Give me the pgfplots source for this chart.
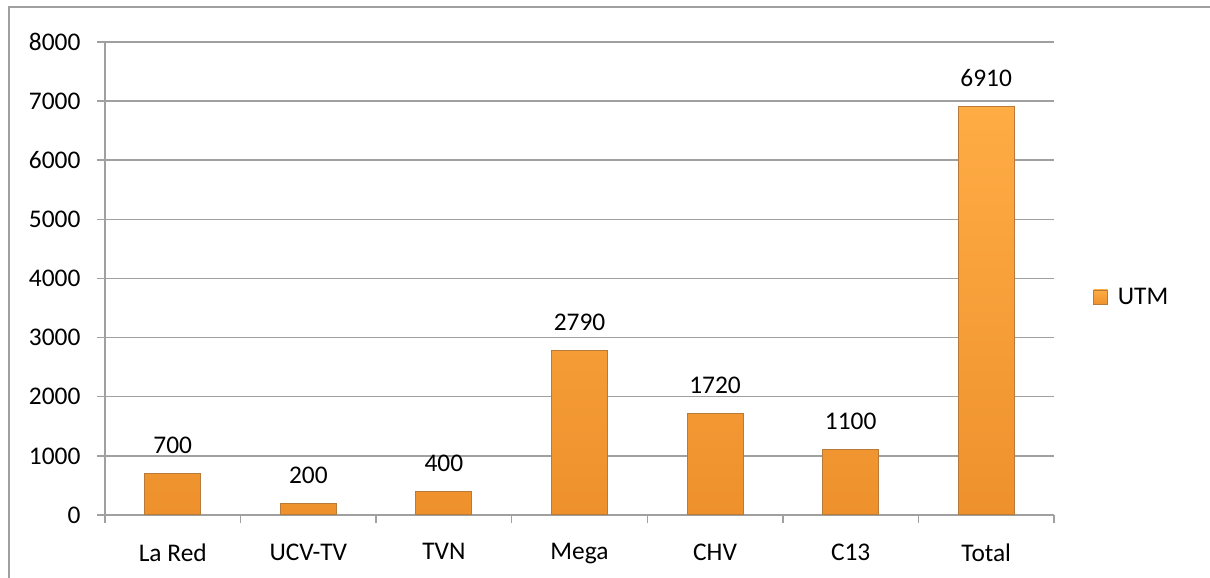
\documentclass[border=0pt]{standalone}
\usepackage{pgfplots}
\pgfplotsset{compat=1.18}
\usepackage{fontspec}
\setmainfont{Carlito}
\definecolor{bartop}{HTML}{FFAC45}
\definecolor{barbot}{HTML}{EE912D}
\definecolor{bardark}{HTML}{B87A38}
\definecolor{gridgray}{HTML}{A0A0A0}
\begin{document}
\begin{tikzpicture}[x=1bp,y=1bp]
\useasboundingbox (-105,-63) rectangle (1105,515);
\draw[gridgray,line width=1.5bp] (-96,-63) -- (-96,508) -- (1105,508);
\begin{axis}[
  scale only axis, width=949bp, height=473bp,
  ybar, bar width=56bp,
  xmin=-0.5, xmax=6.5, ymin=0, ymax=8000,
  xtick={0,...,6},
  xticklabels={La Red,UCV-TV,TVN,Mega,CHV,C13,Total},
  minor xtick={-0.5,0.5,...,6.5},
  ytick={0,1000,...,8000},
  axis x line=bottom, axis y line=left,
  axis line style={gridgray,line width=1.5bp,-},
  ymajorgrids, grid style={gridgray,line width=1.5bp},
  tick align=outside,
  major tick length=8bp, minor tick length=8bp,
  x tick style={draw=none},
  minor x tick style={draw=gridgray,line width=1.5bp},
  y tick style={gridgray,line width=1.5bp},
  tick label style={font=\fontsize{25.5}{30}\selectfont},
  xticklabel style={yshift=-17bp},
  yticklabel style={xshift=-13bp},
  /pgf/number format/assume math mode=true,
  scaled y ticks=false,
  yticklabel={\pgfmathprintnumber[fixed,1000 sep={}]{\tick}},
  nodes near coords,
  every node near coord/.append style={font=\fontsize{25.5}{30}\selectfont, yshift=16bp},
  nodes near coords={\pgfmathprintnumber[fixed,1000 sep={}]{\pgfplotspointmeta}},
  legend style={draw=none, at={(1.041,0.461)}, anchor=west, font=\fontsize{25.5}{30}\selectfont, inner sep=0pt},
  legend image code/.code={\draw[top color=bartop,bottom color=barbot,draw=bardark,line width=0.8bp] (0bp,-7bp) rectangle (14bp,7bp);},
]
\addplot[top color=bartop, bottom color=barbot, draw=bardark, line width=1bp] coordinates {
  (0,700) (1,200) (2,400) (3,2790) (4,1720) (5,1100) (6,6910)
};
\legend{\hspace{8bp}UTM}
\end{axis}
\end{tikzpicture}
\end{document}
